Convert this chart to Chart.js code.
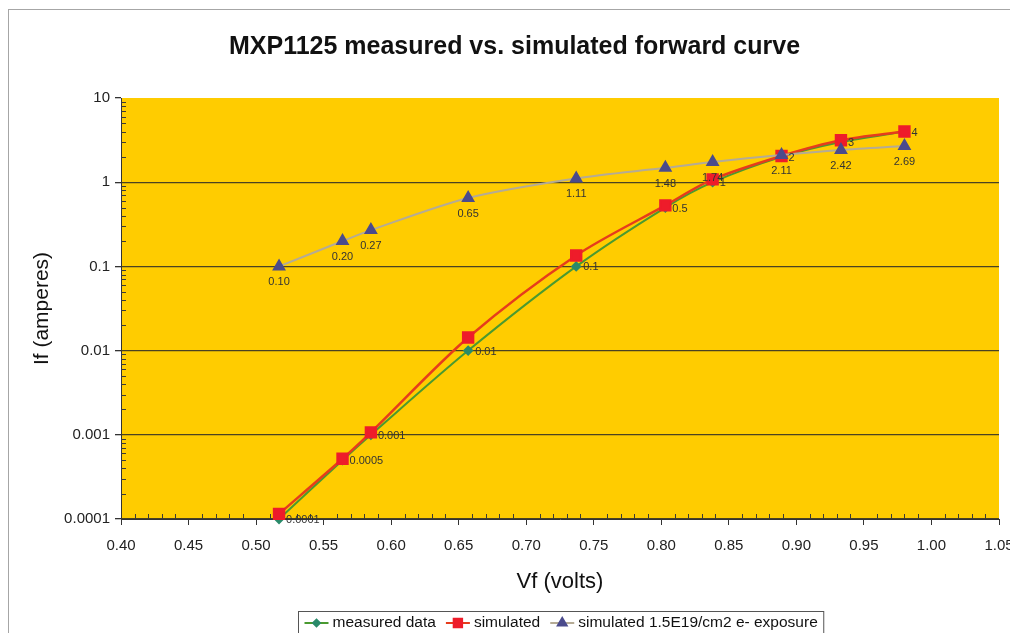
<!DOCTYPE html>
<html><head><meta charset="utf-8">
<script src="https://cdn.jsdelivr.net/npm/chart.js@4.4.1/dist/chart.umd.min.js"></script>
<style>html,body{margin:0;padding:0;background:#fff;overflow:hidden}#wrap{width:1010px;height:633px}</style>
</head><body><div id="wrap"><canvas id="c" width="1010" height="633"></canvas></div>
<script>
const FONT = "'Liberation Sans', Arial, Helvetica, sans-serif";

// ---- data ----
const vf        = [0.517, 0.564, 0.585, 0.657, 0.737, 0.803, 0.838, 0.889, 0.933, 0.980];
const measured  = [0.0001, 0.0005, 0.001, 0.01, 0.1, 0.5, 1, 2, 3, 4];
const simulated = [0.000115, 0.00052, 0.00107, 0.0143, 0.135, 0.53, 1.08, 2.05, 3.15, 4.0];
const exposure  = [0.10, 0.20, 0.27, 0.65, 1.11, 1.48, 1.74, 2.11, 2.42, 2.69];
const seriesNames = ['measured data', 'simulated', 'simulated 1.5E19/cm2 e- exposure'];
const xTicks = [0.40, 0.45, 0.50, 0.55, 0.60, 0.65, 0.70, 0.75, 0.80, 0.85, 0.90, 0.95, 1.00, 1.05];
const xTickLabels = ['0.40','0.45','0.50','0.55','0.60','0.65','0.70','0.75','0.80','0.85','0.90','0.95','1.00','1.05'];
const yTicks = [0.0001, 0.001, 0.01, 0.1, 1, 10];
const yTickLabels = ['0.0001', '0.001', '0.01', '0.1', '1', '10'];
const measuredLabels = ['0.0001','0.0005','0.001','0.01','0.1','0.5','1','2','3','4'];
const exposureLabels = ['0.10','0.20','0.27','0.65','1.11','1.48','1.74','2.11','2.42','2.69'];

const pts = (ys) => vf.map((x, i) => ({x: x, y: ys[i]}));

const bgPlugin = {
  id: 'bg',
  beforeDraw(chart) {
    const {ctx, chartArea: a} = chart;
    ctx.save();
    ctx.fillStyle = '#ffffff';
    ctx.fillRect(0, 0, chart.width, chart.height);
    ctx.strokeStyle = '#a6a6a6';
    ctx.lineWidth = 1;
    ctx.strokeRect(8.5, 9.5, 1100, 700);
    ctx.fillStyle = '#FFCC00';
    ctx.fillRect(a.left, a.top, a.right - a.left, a.bottom - a.top);
    ctx.restore();
  },
  beforeDatasetsDraw(chart) {
    const {ctx, chartArea: a, scales} = chart;
    ctx.save();
    ctx.strokeStyle = '#3a3a3a';
    ctx.lineWidth = 1;
    ctx.beginPath();
    for (let k = -4; k <= 0; k++) {
      for (let m = 2; m <= 9; m++) {
        const y = Math.round(scales.y.getPixelForValue(m * Math.pow(10, k))) + 0.5;
        ctx.moveTo(a.left, y); ctx.lineTo(a.left + 5, y);
      }
    }
    for (let i = 0; i <= 65; i++) {
      if (i % 5 === 0) continue;
      const x = Math.round(scales.x.getPixelForValue(0.40 + i * 0.01)) + 0.5;
      ctx.moveTo(x, a.bottom); ctx.lineTo(x, a.bottom - 5);
    }
    ctx.stroke();
    ctx.restore();
  },
  afterDatasetsDraw(chart) {
    const {ctx} = chart;
    ctx.save();
    ctx.font = '11px ' + FONT;
    ctx.fillStyle = '#333333';
    ctx.textBaseline = 'middle';
    ctx.textAlign = 'left';
    chart.getDatasetMeta(0).data.forEach((p, i) => {
      ctx.fillText(measuredLabels[i], p.x + 7, p.y + 1);
    });
    ctx.textAlign = 'center';
    chart.getDatasetMeta(2).data.forEach((p, i) => {
      ctx.fillText(exposureLabels[i], p.x, p.y + 16);
    });
    ctx.restore();
  },
  afterDraw(chart) {
    const {ctx} = chart;
    const ds = chart.data.datasets;
    ctx.save();
    ctx.font = '15.5px ' + FONT;
    const sym = 24, gapS = 4, gapI = 10, pad = 6;
    const widths = ds.map(d => ctx.measureText(d.label).width);
    let total = widths.reduce((s, w) => s + sym + gapS + w, 0) + gapI * (ds.length - 1);
    const cx = 561, top = 611.5, cy = 623;
    const left = Math.round(cx - total / 2 - pad) + 0.5;
    ctx.strokeStyle = '#555';
    ctx.lineWidth = 1;
    ctx.strokeRect(left, top, total + 2 * pad, 40);
    let x = left + pad;
    ds.forEach((d, i) => {
      ctx.strokeStyle = d.borderColor;
      ctx.lineWidth = 2;
      ctx.beginPath(); ctx.moveTo(x, cy); ctx.lineTo(x + sym, cy); ctx.stroke();
      ctx.fillStyle = d.pointBackgroundColor;
      ctx.strokeStyle = d.pointBorderColor;
      Chart.helpers.drawPoint(ctx, {pointStyle: d.pointStyle, radius: d.pointRadius * 0.85, rotation: 0, borderWidth: 1}, x + sym / 2, cy);
      ctx.fillStyle = '#111';
      ctx.textAlign = 'left'; ctx.textBaseline = 'middle';
      ctx.fillText(d.label, x + sym + gapS, cy);
      x += sym + gapS + widths[i] + gapI;
    });
    ctx.restore();
  }
};

new Chart(document.getElementById('c'), {
  type: 'scatter',
  data: {
    datasets: [
      { label: seriesNames[0], data: pts(measured), showLine: true, tension: 0.3,
        borderColor: '#4a9a30', borderWidth: 2, pointStyle: 'rectRot', pointRadius: 4,
        pointBackgroundColor: '#2a8a6a', pointBorderColor: '#2a8a6a', order: 2, clip: false },
      { label: seriesNames[1], data: pts(simulated), showLine: true, tension: 0.3,
        borderColor: '#e63c1c', borderWidth: 2.5, pointStyle: 'rect', pointRadius: 7,
        pointBackgroundColor: '#ee1c2a', pointBorderColor: '#ee1c2a', order: 1, clip: false },
      { label: seriesNames[2], data: pts(exposure), showLine: true, tension: 0.3,
        borderColor: '#b5ab95', borderWidth: 2, pointStyle: 'triangle', pointRadius: 6,
        pointBackgroundColor: '#4b4b8c', pointBorderColor: '#4b4b8c', order: 0, clip: false }
    ]
  },
  options: {
    responsive: false, animation: false, devicePixelRatio: 1,
    layout: { padding: { left: 30, right: 11, top: 0, bottom: 0 } },
    plugins: {
      legend: { display: false },
      tooltip: { enabled: false },
      title: { display: true, text: 'MXP1125 measured vs. simulated forward curve',
        color: '#111', font: { family: FONT, size: 25, weight: 'bold' }, padding: { top: 32, bottom: 36 } }
    },
    scales: {
      x: {
        type: 'linear', position: 'bottom', min: 0.40, max: 1.05,
        afterBuildTicks: s => { s.ticks = xTicks.map(v => ({ value: v })); },
        afterFit: s => { s.height = 114; s.paddingLeft = 0; s.paddingRight = 0; },
        ticks: { callback: (v, i) => xTickLabels[i], color: '#222', font: { family: FONT, size: 15 },
          padding: 12, maxRotation: 0, autoSkip: false },
        grid: { drawOnChartArea: false, drawTicks: true, tickLength: 6, tickColor: '#333' },
        border: { display: true, color: '#333', width: 1 },
        title: { display: true, text: 'Vf (volts)', color: '#111', font: { family: FONT, size: 22 },
          padding: { top: 0, bottom: 38 } }
      },
      y: {
        type: 'logarithmic', position: 'left', min: 0.0001, max: 10,
        afterBuildTicks: s => { s.ticks = yTicks.map(v => ({ value: v })); },
        afterFit: s => { s.width = 91; s.paddingTop = 0; s.paddingBottom = 0; },
        ticks: { callback: (v, i) => yTickLabels[i], color: '#222', font: { family: FONT, size: 15 },
          padding: 5, autoSkip: false },
        grid: { color: c => (c.tick && c.tick.value >= 10) ? 'rgba(0,0,0,0)' : '#4a4222',
          lineWidth: 1.3, tickLength: 6, tickColor: '#333' },
        border: { display: true, color: '#333', width: 1 },
        title: { display: true, text: 'If (amperes)', color: '#111', font: { family: FONT, size: 21 },
          padding: { top: 0, bottom: 0 } }
      }
    }
  },
  plugins: [bgPlugin]
});
</script></body></html>
